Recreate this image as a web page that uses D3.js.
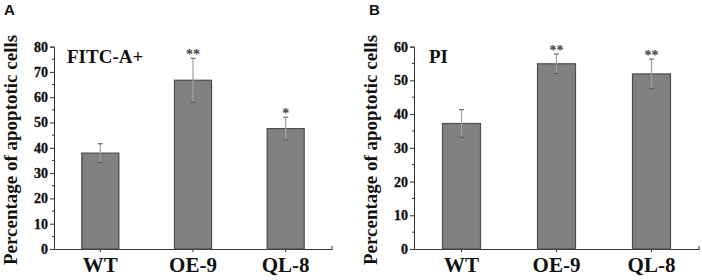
<!DOCTYPE html>
<html>
<head>
<meta charset="utf-8">
<script src="https://cdn.jsdelivr.net/npm/d3@7"></script>
<style>
  body { margin: 0; background: #fff; }
  svg { display: block; }
  .tick text { font-family: "Liberation Serif", "Times New Roman", serif; font-weight: 700; }
</style>
</head>
<body>
<script>
const width = 702;
const height = 280;

// data
const groups = ["WT", "OE-9", "QL-8"];
const fitcValues = [37.9, 66.7, 47.6];
const fitcErrors = [3.7, 8.7, 4.5];
const fitcStars = ["", "**", "*"];
const piValues = [37.2, 54.9, 51.9];
const piErrors = [4.1, 2.9, 4.4];
const piStars = ["", "**", "**"];

const svg = d3.select("body").append("svg")
    .attr("width", width)
    .attr("height", height);

function panel(opts) {
    const g = svg.append("g");

    const x = d3.scaleBand()
        .domain(groups)
        .range([opts.x0, opts.x1])
        .paddingInner(0.6)
        .paddingOuter(0.3);

    const y = d3.scaleLinear()
        .domain([0, opts.yMax])
        .range([249, 46.6]);

    // minor ticks
    const minor = d3.range(5, opts.yMax, 10);
    g.append("g")
        .selectAll("line")
        .data(minor)
        .join("line")
        .attr("x1", opts.x0 - 2).attr("x2", opts.x0)
        .attr("y1", d => y(d)).attr("y2", d => y(d))
        .attr("stroke", "#333");

    // y axis
    const yAxis = g.append("g")
        .attr("transform", `translate(${opts.x0},0)`)
        .call(d3.axisLeft(y).tickValues(d3.range(0, opts.yMax + 1, 10)).tickSize(4).tickPadding(2));
    yAxis.select(".domain").attr("stroke", "#333");
    yAxis.selectAll(".tick line").attr("stroke", "#333");
    yAxis.selectAll(".tick text")
        .attr("font-size", 14)
        .attr("fill", "#111")
        .attr("stroke", "#111")
        .attr("stroke-width", 0.35);

    // x axis
    const xAxis = g.append("g")
        .attr("transform", "translate(0,249)")
        .call(d3.axisBottom(x).tickSize(3).tickPadding(5).tickSizeOuter(0));
    xAxis.select(".domain").attr("stroke", "#333");
    xAxis.selectAll(".tick line").attr("stroke", "#333");
    xAxis.selectAll(".tick text").attr("font-size", 21).attr("fill", "#111");
    // end tick
    g.append("line")
        .attr("x1", opts.x1).attr("x2", opts.x1)
        .attr("y1", 249).attr("y2", 246)
        .attr("stroke", "#333");

    // bars
    g.append("g")
        .selectAll("rect")
        .data(groups)
        .join("rect")
        .attr("x", d => x(d))
        .attr("y", (d, i) => y(opts.values[i]))
        .attr("width", x.bandwidth())
        .attr("height", (d, i) => y(0) - y(opts.values[i]))
        .attr("fill", "#818181")
        .attr("stroke", "#4d4d4d")
        .attr("stroke-width", 1.2);

    // error bars
    const eb = g.append("g")
        .selectAll("g")
        .data(groups)
        .join("g");
    eb.append("line")
        .attr("x1", d => x(d) + x.bandwidth() / 2)
        .attr("x2", d => x(d) + x.bandwidth() / 2)
        .attr("y1", (d, i) => y(opts.values[i] + opts.errors[i]))
        .attr("y2", (d, i) => y(opts.values[i] - opts.errors[i]))
        .attr("stroke", "#a0a0a0")
        .attr("stroke-width", 1.2);
    eb.append("line")
        .attr("x1", d => x(d) + x.bandwidth() / 2 - 2.5)
        .attr("x2", d => x(d) + x.bandwidth() / 2 + 2.5)
        .attr("y1", (d, i) => y(opts.values[i] + opts.errors[i]))
        .attr("y2", (d, i) => y(opts.values[i] + opts.errors[i]))
        .attr("stroke", "#555");
    eb.append("line")
        .attr("x1", d => x(d) + x.bandwidth() / 2 - 2.5)
        .attr("x2", d => x(d) + x.bandwidth() / 2 + 2.5)
        .attr("y1", (d, i) => y(opts.values[i] - opts.errors[i]))
        .attr("y2", (d, i) => y(opts.values[i] - opts.errors[i]))
        .attr("stroke", "#555");

    // significance stars
    g.append("g")
        .selectAll("text")
        .data(groups)
        .join("text")
        .attr("x", d => x(d) + x.bandwidth() / 2)
        .attr("y", (d, i) => y(opts.values[i] + opts.errors[i]) + 0.5)
        .attr("text-anchor", "middle")
        .attr("font-family", "Liberation Serif, serif")
        .attr("font-weight", "bold")
        .attr("font-size", 14)
        .attr("fill", "#444")
        .text((d, i) => opts.stars[i]);

    // inner label
    g.append("text")
        .attr("x", opts.x0 + opts.labelDx)
        .attr("y", 63)
        .attr("font-family", "Liberation Serif, serif")
        .attr("font-weight", "bold")
        .attr("font-size", 19)
        .attr("fill", "#111")
        .text(opts.label);

    // y title
    g.append("text")
        .attr("transform", `translate(${opts.titleX},150) rotate(-90)`)
        .attr("text-anchor", "middle")
        .attr("font-family", "Liberation Serif, serif")
        .attr("font-weight", "bold")
        .attr("font-size", 19)
        .attr("fill", "#111")
        .text("Percentage of apoptotic cells");

    // panel letter
    g.append("text")
        .attr("x", opts.letterX)
        .attr("y", 15)
        .attr("font-family", "Liberation Sans, Arial, sans-serif")
        .attr("font-weight", "bold")
        .attr("font-size", 15)
        .attr("fill", "#111")
        .text(opts.letter);
}

panel({
    x0: 54, x1: 332, yMax: 80,
    values: fitcValues, errors: fitcErrors, stars: fitcStars,
    label: "FITC-A+", labelDx: 13, titleX: 17, letterX: 4, letter: "A"
});

panel({
    x0: 414, x1: 699, yMax: 60,
    values: piValues, errors: piErrors, stars: piStars,
    label: "PI", labelDx: 15, titleX: 377, letterX: 369, letter: "B"
});
</script>
</body>
</html>
